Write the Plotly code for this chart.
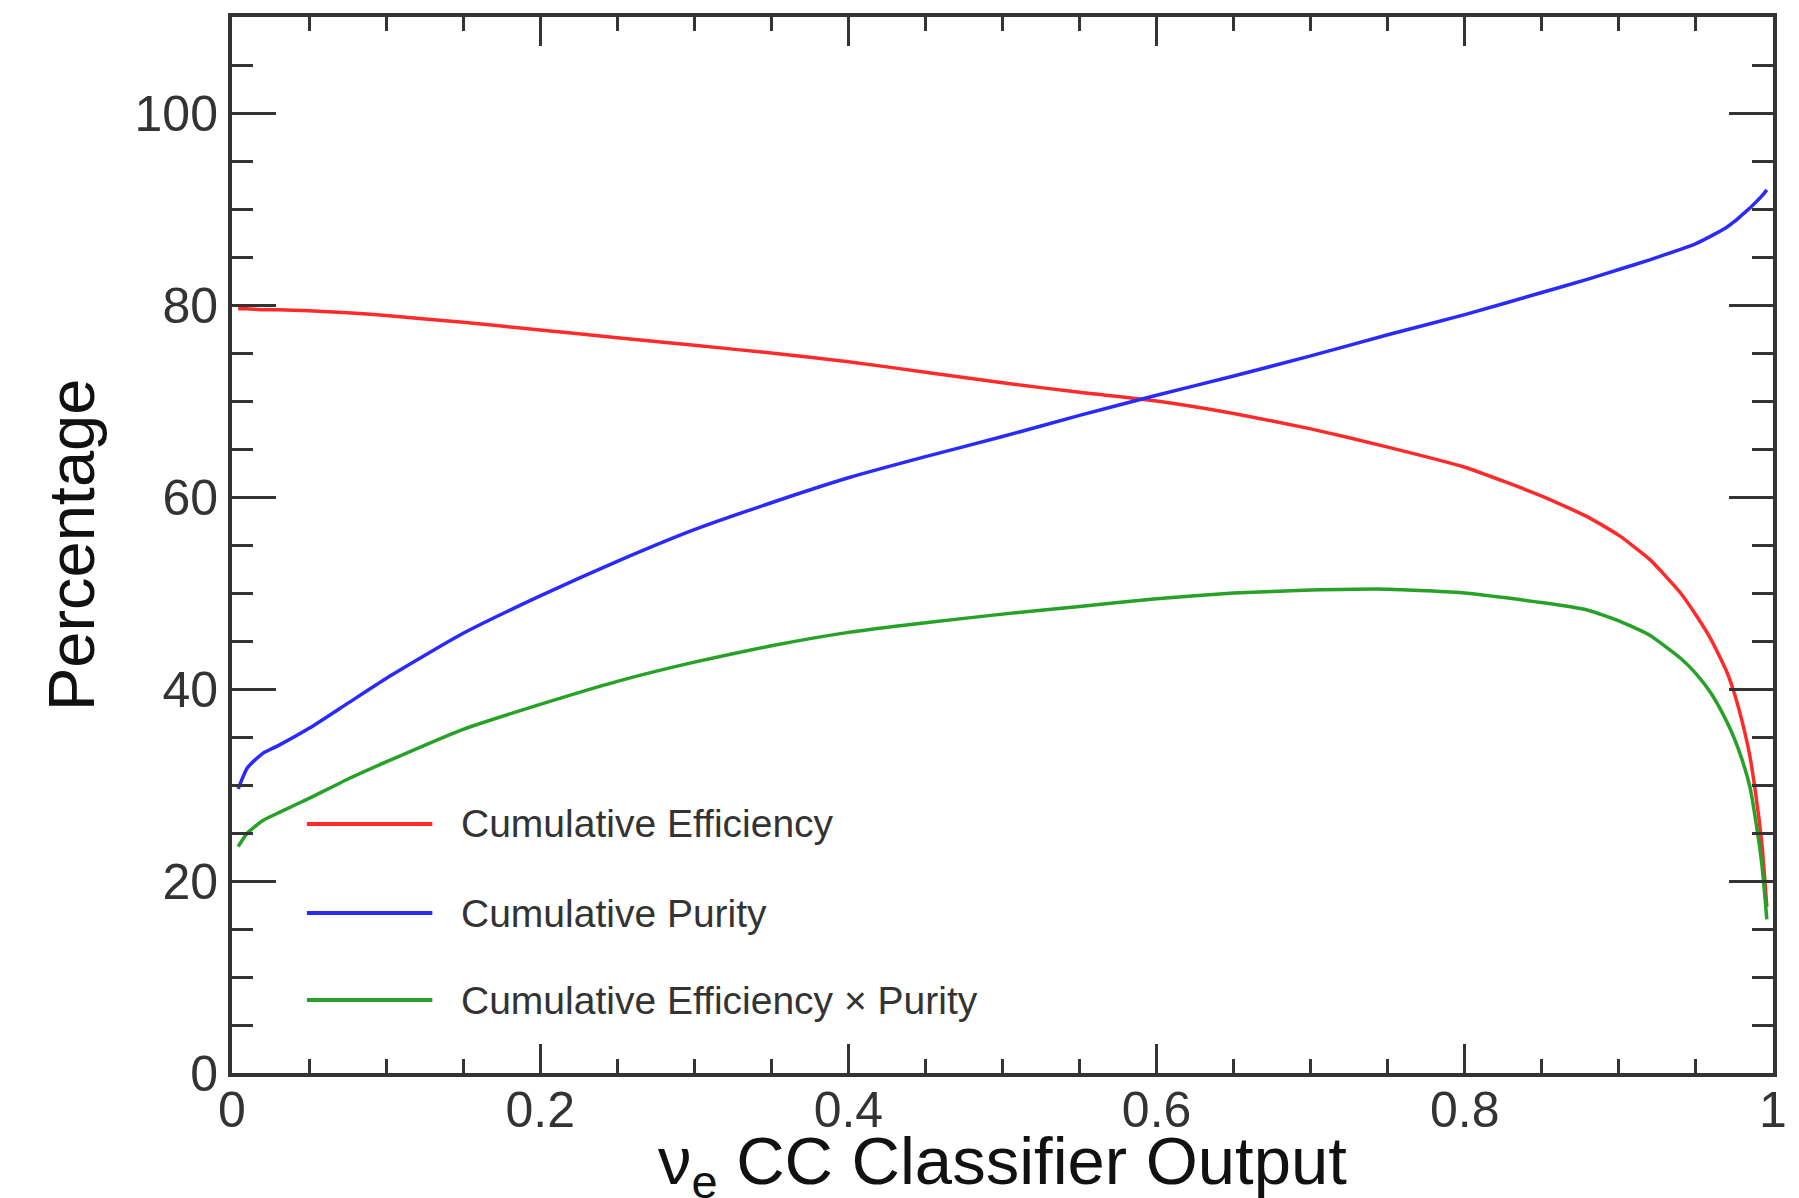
import plotly.graph_objects as go

# ---- data ----
classifier_output = [0.004, 0.01, 0.02, 0.03, 0.05, 0.075, 0.1, 0.15, 0.2, 0.25, 0.3, 0.35,
                     0.4, 0.45, 0.5, 0.55, 0.6, 0.65, 0.7, 0.75, 0.8, 0.85, 0.88, 0.9,
                     0.92, 0.94, 0.95, 0.96, 0.97, 0.975, 0.98, 0.985, 0.99, 0.993, 0.996]

efficiency = [79.6, 79.6, 79.5, 79.5, 79.4, 79.2, 78.9, 78.2, 77.4, 76.6, 75.8, 75.0,
              74.1, 73.0, 71.9, 70.9, 70.0, 68.7, 67.1, 65.2, 63.1, 60.1, 57.9, 56.0,
              53.5, 50.0, 47.7, 45.1, 41.8, 39.5, 36.6, 33.0, 27.6, 23.5, 17.3]

purity = [29.6, 31.8, 33.3, 34.1, 35.9, 38.5, 41.1, 45.8, 49.7, 53.3, 56.6, 59.4,
          62.0, 64.2, 66.3, 68.5, 70.6, 72.6, 74.7, 76.9, 79.0, 81.3, 82.7, 83.7,
          84.7, 85.8, 86.4, 87.2, 88.1, 88.7, 89.4, 90.1, 90.9, 91.4, 92.0]

eff_x_purity = [23.6, 25.0, 26.3, 27.1, 28.6, 30.6, 32.4, 35.8, 38.4, 40.8, 42.8, 44.5,
                45.9, 46.9, 47.8, 48.6, 49.4, 50.0, 50.3, 50.4, 50.0, 49.0, 48.2, 47.1,
                45.6, 43.2, 41.6, 39.5, 36.6, 34.8, 32.6, 29.8, 25.0, 21.4, 16.0]

series_names = ["Cumulative Efficiency", "Cumulative Purity", "Cumulative Efficiency \u00d7 Purity"]
series_values = [efficiency, purity, eff_x_purity]
series_colors = ["#ff2a2a", "#2a2aff", "#27a127"]

x_tick_vals = [0, 0.2, 0.4, 0.6, 0.8, 1]
x_tick_text = ["0", "0.2", "0.4", "0.6", "0.8", "1"]
y_tick_vals = [0, 20, 40, 60, 80, 100]
y_tick_text = ["0", "20", "40", "60", "80", "100"]

FONT = "Liberation Sans, Arial, Helvetica, sans-serif"
AX = "#333333"

fig = go.Figure()
for name, vals, col in zip(series_names, series_values, series_colors):
    fig.add_trace(go.Scatter(x=classifier_output, y=vals, mode="lines", name=name,
                             line=dict(color=col, width=3.5, shape="spline", smoothing=0.5),
                             showlegend=False))

# manual legend (long line samples, no box)
legend_y = [0.2358, 0.1515, 0.0691]
for name, col, ly in zip(series_names, series_colors, legend_y):
    fig.add_shape(type="line", xref="paper", yref="paper", x0=0.0486, x1=0.130, y0=ly, y1=ly,
                  line=dict(color=col, width=4))
    fig.add_annotation(xref="paper", yref="paper", x=0.1476, y=ly, text=name, showarrow=False,
                       xanchor="left", yanchor="middle",
                       font=dict(family=FONT, size=39, color="#333333"))

# axis titles
fig.add_annotation(xref="paper", yref="paper", x=0.5, y=-0.088,
                   text="\u03bd<sub>e</sub> CC Classifier Output", showarrow=False,
                   xanchor="center", yanchor="middle",
                   font=dict(family=FONT, size=67, color="#111111"))
fig.add_annotation(xref="paper", yref="paper", x=-0.1044, y=0.5, text="Percentage",
                   showarrow=False, textangle=-90, xanchor="center", yanchor="middle",
                   font=dict(family=FONT, size=65, color="#111111"))

fig.update_xaxes(range=[0, 1], tickvals=x_tick_vals, ticktext=x_tick_text,
                 ticks="inside", ticklen=29, tickwidth=3, tickcolor=AX,
                 minor=dict(dtick=0.05, tick0=0, ticks="inside", ticklen=14, tickwidth=3,
                            tickcolor=AX, showgrid=False),
                 showline=True, linewidth=4, linecolor=AX, mirror="allticks",
                 showgrid=False, zeroline=False, ticklabelstandoff=-10,
                 tickfont=dict(family=FONT, size=50, color="#333333"))
fig.update_yaxes(range=[0, 110], tickvals=y_tick_vals, ticktext=y_tick_text,
                 ticks="inside", ticklen=44, tickwidth=3, tickcolor=AX,
                 minor=dict(dtick=5, tick0=0, ticks="inside", ticklen=21, tickwidth=3,
                            tickcolor=AX, showgrid=False),
                 showline=True, linewidth=4, linecolor=AX, mirror="allticks",
                 showgrid=False, zeroline=False,
                 tickfont=dict(family=FONT, size=50, color="#333333"))

fig.update_layout(width=1799, height=1198, margin=dict(l=232, r=15, t=17, b=125),
                  paper_bgcolor="white", plot_bgcolor="white",
                  font=dict(family=FONT, color="#333333"))

fig.write_html("out.html")
